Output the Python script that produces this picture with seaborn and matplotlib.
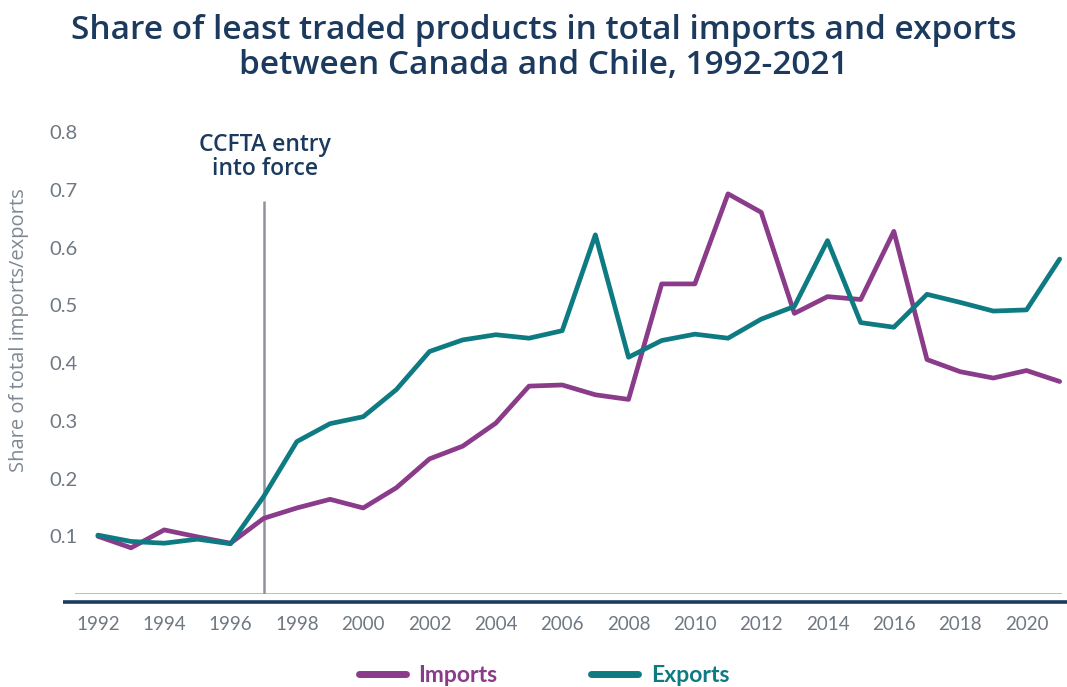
import matplotlib
matplotlib.use("Agg")
import matplotlib.pyplot as plt
import seaborn as sns
import pandas as pd

years = list(range(1992, 2022))
imports = [0.100, 0.080, 0.111, 0.099, 0.088, 0.131, 0.149, 0.164, 0.149, 0.184,
           0.234, 0.256, 0.296, 0.360, 0.362, 0.345, 0.337, 0.537, 0.537, 0.693,
           0.661, 0.486, 0.515, 0.510, 0.628, 0.406, 0.385, 0.374, 0.387, 0.368]
exports = [0.102, 0.091, 0.088, 0.095, 0.087, 0.169, 0.264, 0.295, 0.307, 0.354,
           0.420, 0.440, 0.449, 0.443, 0.456, 0.622, 0.410, 0.439, 0.450, 0.443,
           0.476, 0.498, 0.612, 0.470, 0.462, 0.519, 0.505, 0.490, 0.492, 0.580]
series_names = ["Imports", "Exports"]
y_ticks = [0.1, 0.2, 0.3, 0.4, 0.5, 0.6, 0.7, 0.8]
x_ticks = list(range(1992, 2021, 2))
event_year = 1997
event_top = 0.68
event_label = "CCFTA entry\ninto force"

PURPLE = "#8a3b89"
TEAL = "#0e7b82"
NAVY = "#1c3a5e"
GREY_TXT = "#6f7882"

sns.set_theme(style="white")
plt.rcParams["font.family"] = ["Lato", "DejaVu Sans"]
HEAD_FONT = ["Open Sans", "DejaVu Sans"]

df = pd.DataFrame({
    "Year": years * 2,
    "Share": imports + exports,
    "Series": [series_names[0]] * len(years) + [series_names[1]] * len(years),
})

fig = plt.figure(figsize=(10.67, 6.87), dpi=100)
ax = fig.add_axes([75 / 1067, 1 - 594 / 687, (1062 - 75) / 1067, (594 - 120.5) / 687])

sns.lineplot(data=df, x="Year", y="Share", hue="Series",
             palette={"Imports": PURPLE, "Exports": TEAL},
             linewidth=3.4, ax=ax, legend=True)

ax.set_xlim(1991.31, 2021.07)
ax.set_ylim(0, 0.82)
ax.set_xticks(x_ticks)
ax.set_xticklabels([str(y) for y in x_ticks])
ax.set_yticks(y_ticks)
ax.set_yticklabels([f"{v:.1f}" for v in y_ticks])
ax.tick_params(axis="x", length=0, pad=16, labelsize=13.5, labelcolor=GREY_TXT)
ax.tick_params(axis="y", length=0, pad=-2, labelsize=14.5, labelcolor=GREY_TXT)
ax.set_xlabel("")
ax.set_ylabel("Share of total imports/exports", fontsize=14.5, color="#7f8891",
              family=HEAD_FONT)
ax.yaxis.set_label_coords(-0.047, 0.557)
for s in ax.spines.values():
    s.set_visible(False)

# thin zero line and dark baseline under the plot
ax.axhline(0, color="#aab4bf", linewidth=1.2, zorder=1)
ax.plot([-0.012, 1.005], [-0.017, -0.017], transform=ax.transAxes,
        color=NAVY, linewidth=2.6, clip_on=False, solid_capstyle="butt")

# agreement marker
ax.vlines(event_year, 0, event_top, color="#8d929c", linewidth=1.8, zorder=1)
ax.text(event_year + 0.05, 0.757, event_label, ha="center", va="center",
        fontsize=16.5, fontweight="semibold", color=NAVY, linespacing=1.0,
        family=HEAD_FONT)

fig.text(0.51, 0.955, "Share of least traded products in total imports and exports",
         ha="center", va="center", fontsize=24, fontweight="semibold", color=NAVY,
         family=HEAD_FONT)
fig.text(0.51, 0.904, "between Canada and Chile, 1992-2021",
         ha="center", va="center", fontsize=24, fontweight="semibold", color=NAVY,
         family=HEAD_FONT)

leg = ax.legend(loc="center", bbox_to_anchor=(0.51, 0.017),
                bbox_transform=fig.transFigure, ncol=2, frameon=False,
                handlelength=2.05, handletextpad=0.55, columnspacing=4.1,
                prop={"size": 16.5, "weight": "bold"})
for line in leg.get_lines():
    line.set_linewidth(5)
    line.set_solid_capstyle("round")
for txt, col in zip(leg.get_texts(), [PURPLE, TEAL]):
    txt.set_color(col)

fig.savefig("out.png", dpi=100, facecolor="white")
